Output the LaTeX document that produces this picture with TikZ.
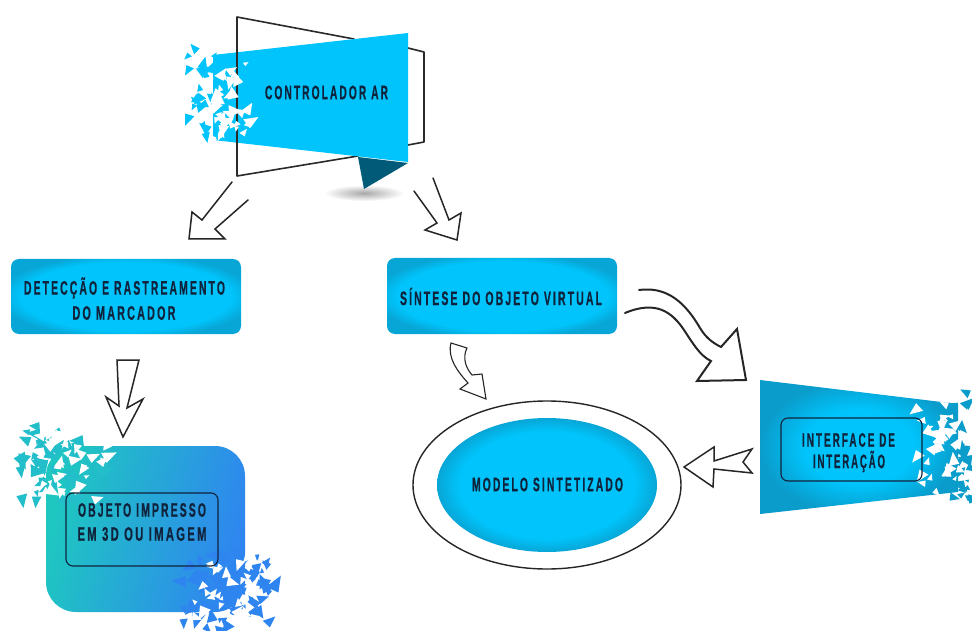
\documentclass[tikz,border=0pt]{standalone}
\usepackage{fontspec}
\usepackage{graphicx}
\setmainfont{Liberation Sans}
\usetikzlibrary{calc}
\definecolor{cyanA}{HTML}{00C4FB}
\definecolor{cyanB}{HTML}{0A9CCB}
\definecolor{cyanC}{HTML}{08A6D6}
\definecolor{darkT}{HTML}{005A78}
\definecolor{ink}{HTML}{10233C}
\definecolor{lineK}{HTML}{2A2A2A}
\definecolor{tealA}{HTML}{1EC8C0}
\definecolor{blueA}{HTML}{2F85F0}
\definecolor{shardT}{HTML}{22BFCB}
\definecolor{shadowK}{HTML}{A8A8A8}
\pgfdeclareradialshading{softbox}{\pgfpoint{0bp}{0bp}}{color(0bp)=(cyanA); color(23bp)=(cyanA); color(28bp)=(cyanC); color(50bp)=(cyanC)}
\pgfdeclareradialshading{softoval}{\pgfpoint{0bp}{0bp}}{color(0bp)=(cyanA); color(20bp)=(cyanA); color(25bp)=(cyanC); color(50bp)=(cyanC)}
\pgfdeclareradialshading{softwide}{\pgfpoint{0bp}{0bp}}{color(0bp)=(cyanA); color(14bp)=(cyanA); color(25bp)=(cyanB); color(50bp)=(cyanB)}
\pgfdeclareradialshading{softshadow}{\pgfpoint{0bp}{0bp}}{color(0bp)=(shadowK); color(25bp)=(white); color(50bp)=(white)}
\newcommand{\fitT}[2]{\resizebox{#1pt}{\height}{\bfseries\addfontfeatures{LetterSpace=20,FakeBold=.8}#2}}
\newcommand{\shardset}[8]{% x y w h n color seed maxsize
  \pgfmathsetseed{#7}
  \foreach \k in {1,...,#5}{
    \pgfmathsetmacro{\sx}{#1+rnd*#3}
    \pgfmathsetmacro{\sy}{#2+rnd*#4}
    \pgfmathsetmacro{\sr}{rnd*360}
    \pgfmathsetmacro{\ss}{5+rnd*#8}
    \fill[#6,shift={(\sx,\sy)},rotate=\sr] (0,0) -- (\ss,.15*\ss) -- (.25*\ss,.7*\ss) -- cycle;
  }
}
\tikzset{
  x=1pt,y=-1pt,
  lbl/.style={font=\fontsize{19.5}{19.5}\selectfont,text=ink,inner sep=0pt,anchor=center},
  outline/.style={draw=lineK,line width=1.6pt,line join=round,line cap=round},
  arrowline/.style={draw=black!85,line width=1.5pt,line join=miter,line cap=round,fill=none},
  softfill/.style={shading=softbox,draw=none},
  framebox/.style={draw=ink,line width=1.1pt,rounded corners=7pt,fill=none}
}
\begin{document}
\begin{tikzpicture}
\useasboundingbox (0,0) rectangle (972,631);
\fill[white] (0,0) rectangle (972,631);

% --- Controlador AR
\path[shading=softshadow,draw=none] (364,193) ellipse (40 and 8);
\draw[outline] (354,39) -- (237,17) -- (237,176) -- (358,156);
\draw[outline] (408,48) -- (424,52) -- (424,142) -- (408,145);
\fill[darkT] (358,157) -- (408,163) -- (364,189) -- cycle;
\shardset{190}{50}{24}{90}{22}{cyanA}{11}{13}
\fill[cyanA] (213,55) -- (408,33) -- (408,162) -- (213,140) -- cycle;
\draw[lineK,line width=1.6pt] (237,52) -- (237,143);
\shardset{213}{62}{32}{76}{38}{white}{12}{11}
\node[lbl] (ctrl) at (326.5,92.5) {\fitT{123}{CONTROLADOR AR}};

% arrows from controller
\draw[arrowline] (232,182) -- (202,220) -- (192,212) -- (189,239) -- (225,239) -- (215,229) -- (248,200);
\draw[arrowline] (414,191) -- (437,223) -- (425,230) -- (457,240) -- (461,213) -- (449,220) -- (433,178);

% --- Deteccao
\path[softfill,rounded corners=8pt] (11,259) rectangle (241,334);
\node[lbl] (det1) at (124.5,288) {\fitT{201}{DETECÇÃO E RASTREAMENTO}};
\node[lbl] (det2) at (124,313) {\fitT{103}{DO MARCADOR}};

% --- Sintese
\path[softfill,rounded corners=8pt] (387,258) rectangle (617,334);
\node[lbl] (sint) at (501,296.5) {\fitT{202}{SÍNTESE DO OBJETO VIRTUAL}};

% down arrow
\draw[arrowline] (117,360) -- (139,360) -- (127,408) -- (143,399) -- (123,437) -- (106,397) -- (119,406) -- cycle;

% --- Objeto
\shade[left color=tealA,right color=blueA,shading angle=75,rounded corners=30pt] (46,446) rectangle (245,612);
\shardset{24}{428}{72}{72}{60}{shardT}{21}{14}
\shardset{44}{436}{60}{62}{36}{white}{22}{11}
\shardset{186}{556}{82}{72}{80}{blueA}{31}{14}
\shardset{192}{558}{58}{58}{30}{white}{32}{11}
\path[framebox] (66,493) rectangle (218,566);
\node[lbl] (obj1) at (142,510) {\fitT{128}{OBJETO IMPRESSO}};
\node[lbl] (obj2) at (142,534) {\fitT{129}{EM 3D OU IMAGEM}};

% small curved arrow
\draw[arrowline,line width=1.1pt] (451,343) -- (467,348)
  .. controls (462,358) and (466,368) .. (472,375) -- (482,374) -- (486,399) -- (460,389) -- (468,383)
  .. controls (458,372) and (447,358) .. (451,343) -- cycle;

% --- Modelo
\draw[line width=1.4pt,black!85] (547,485) ellipse (134 and 84);
\path[shading=softoval,draw=none] (547,485) ellipse (110 and 67);
\node[lbl] (mod) at (547.5,484.5) {\fitT{151}{MODELO SINTETIZADO}};

% big curved arrow
\draw[arrowline,line width=2pt] (639,290) .. controls (668,286) and (686,304) .. (700,328)
  .. controls (706,338) and (713,343) .. (721,347) -- (737,329) -- (746,380) -- (697,381) -- (711,361)
  .. controls (700,356) and (692,342) .. (684,330)
  .. controls (672,312) and (656,300) .. (625,313);

% --- Interface
\shardset{950}{398}{22}{98}{34}{cyanB}{41}{12}
\path[shading=softwide,draw=none] (760,380) -- (958,404) -- (958,492) -- (760,514) -- cycle;
\shardset{922}{408}{44}{80}{40}{white}{42}{11}
\path[framebox] (781,418) rectangle (922,481);
\node[lbl] (int1) at (848.5,440) {\fitT{93}{INTERFACE DE}};
\node[lbl] (int2) at (849,461.5) {\fitT{72}{INTERAÇÃO}};

% left arrow
\draw[arrowline] (752,449) -- (714,461) -- (714,447) -- (684,467) -- (713,487) -- (714,469) -- (752,473) -- (743,462) -- cycle;
\end{tikzpicture}
\end{document}
